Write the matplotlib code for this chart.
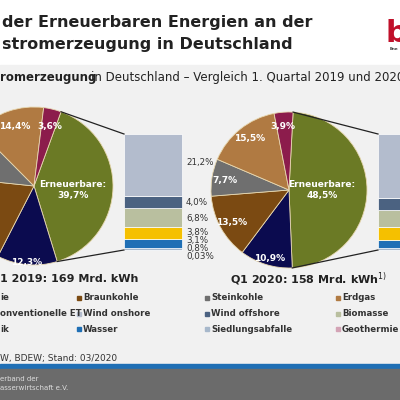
import numpy as np
import matplotlib.pyplot as plt
from matplotlib.patches import Rectangle

# pie shares (clockwise from the renewables wedge)
pie_labels = ['Erneuerbare', 'Kernenergie', 'Braunkohle', 'Steinkohle', 'Erdgas', 'Sonstige']
share_2019 = [39.7, 12.3, 19.1, 10.9, 14.4, 3.6]
share_2020 = [48.5, 10.9, 13.5, 7.7, 15.5, 3.9]
pie_colors = ['#6b7a25', '#0b0b4f', '#7b4a12', '#6f6f6f', '#b07a42', '#8c1c4c']

# renewables breakdown (bottom to top)
re_labels = ['Geothermie', 'Siedlungsabfälle', 'Wasser', 'Photovoltaik', 'Biomasse', 'Wind offshore', 'Wind onshore']
re_2019 = [0.03, 0.8, 3.1, 3.8, 6.8, 4.0, 21.2]
re_2020 = [0.03, 0.8, 3.3, 5.5, 6.9, 5.4, 26.6]
re_colors = ['#d3a3b5', '#a7b8cb', '#1f6fb5', '#f5c000', '#b9bf9f', '#4b6281', '#b3bccd']
re_text_2019 = ['0,03%', '0,8%', '3,1%', '3,8%', '6,8%', '4,0%', '21,2%']

fig = plt.figure(figsize=(4, 4), dpi=100)
ax = fig.add_axes([0, 0, 1, 1])
ax.set_xlim(0, 400)
ax.set_ylim(400, 0)
ax.axis('off')

# slide background
ax.add_patch(Rectangle((0, 65), 400, 300, color='#f1f1f1', zorder=0))
ax.add_patch(Rectangle((0, 364), 400, 5, color='#1f6fb5', zorder=0))
ax.add_patch(Rectangle((0, 369), 400, 31, color='#6b6b6b', zorder=0))

ax.text(2, 22, 'der Erneuerbaren Energien an der', fontsize=11.5, fontweight='bold', va='center', color='#222')
ax.text(2, 44, 'stromerzeugung in Deutschland', fontsize=11.5, fontweight='bold', va='center', color='#222')
ax.text(386, 34, 'b', fontsize=22, fontweight='bold', color='#c0102a', va='center')
ax.text(390, 49, 'Ene', fontsize=3, fontweight='bold', color='#333', va='center')
ax.text(0, 78, 'romerzeugung', fontsize=8.5, fontweight='bold', va='center', color='#222')
ax.text(91, 78, 'in Deutschland – Vergleich 1. Quartal 2019 und 2020', fontsize=8.5, va='center', color='#222')

pies = [((34, 186), 79, 70, share_2019, re_2019, 124),
        ((289, 190), 78, 87, share_2020, re_2020, 378)]
bar_top, bar_bot, bar_w = 134, 250, 58
for center, r, start, shares, re_vals, bx in pies:
    # y axis is inverted, so mirror the angles to get a visually clockwise pie
    ax.pie(shares, colors=pie_colors, center=center, radius=r, startangle=-start,
           counterclock=True, frame=True,
           wedgeprops=dict(edgecolor='#e8d8b0', linewidth=0.6))
    a0 = np.deg2rad(start)
    a1 = np.deg2rad(start - shares[0] * 3.6)
    ax.plot([center[0] + r * np.cos(a0), bx], [center[1] - r * np.sin(a0), bar_top], color='#222', lw=0.9)
    ax.plot([center[0] + r * np.cos(a1), bx], [center[1] - r * np.sin(a1), bar_bot], color='#222', lw=0.9)
    scale = (bar_bot - bar_top) / sum(re_vals)
    bottom = bar_bot
    for v, c in zip(re_vals, re_colors):
        ax.bar(bx, -v * scale, bottom=bottom, width=bar_w, align='edge', color=c, edgecolor='white', lw=0.5)
        bottom -= v * scale

ax.set_xlim(0, 400)
ax.set_ylim(400, 0)
ax.set_aspect('auto')

# bar labels 2019
ypos = [256, 249, 241, 233, 219, 203, 163]
for t, y in zip(re_text_2019, ypos):
    ax.text(186, y, t, fontsize=6.3, va='center', color='#333')

wl = dict(color='white', fontweight='bold', ha='center', va='center', fontsize=6.5)
ax.text(15, 127, '14,4%', **wl)
ax.text(50, 127, '3,6%', **wl)
ax.text(73, 190, 'Erneuerbare:\n39,7%', **wl)
ax.text(27, 262, '12,3%', **wl)
ax.text(250, 138, '15,5%', **wl)
ax.text(283, 127, '3,9%', **wl)
ax.text(225, 181, '7,7%', **wl)
ax.text(232, 222, '13,5%', **wl)
ax.text(270, 258, '10,9%', **wl)
ax.text(322, 190, 'Erneuerbare:\n48,5%', **wl)

ax.text(0, 279, '1 2019: 169 Mrd. kWh', fontsize=8, fontweight='bold', va='center', color='#222')
ax.text(230, 279, 'Q1 2020: 158 Mrd. kWh$^{1)}$', fontsize=8, fontweight='bold', va='center', color='#222')

# legend
legend_rows = [[('ie', '#0b0b4f'), ('Braunkohle', '#7b4a12'), ('Steinkohle', '#6f6f6f'), ('Erdgas', '#b07a42')],
               [('onventionelle ET', '#8c1c4c'), ('Wind onshore', '#b3bccd'), ('Wind offshore', '#4b6281'), ('Biomasse', '#b9bf9f')],
               [('ik', '#f5c000'), ('Wasser', '#1f6fb5'), ('Siedlungsabfalle', '#a7b8cb'), ('Geothermie', '#d3a3b5')]]
col_x = [0, 79, 207, 338]
for i, row in enumerate(legend_rows):
    y = 298 + i * 15.5
    for j, (name, c) in enumerate(row):
        if j == 0:
            ax.text(col_x[j], y, name, fontsize=6.2, fontweight='bold', va='center', color='#333')
        else:
            ax.plot(col_x[j], y, 's', ms=2.5, color=c)
            ax.text(col_x[j] + 4, y, name, fontsize=6.2, fontweight='bold', va='center', color='#333')

ax.text(0, 359, 'W, BDEW; Stand: 03/2020', fontsize=6.5, va='center', color='#333')
ax.text(0, 379, 'erband der', fontsize=5, va='center', color='#ddd')
ax.text(0, 388, 'asserwirtschaft e.V.', fontsize=5, va='center', color='#ddd')

fig.savefig('out.png', dpi=100)
